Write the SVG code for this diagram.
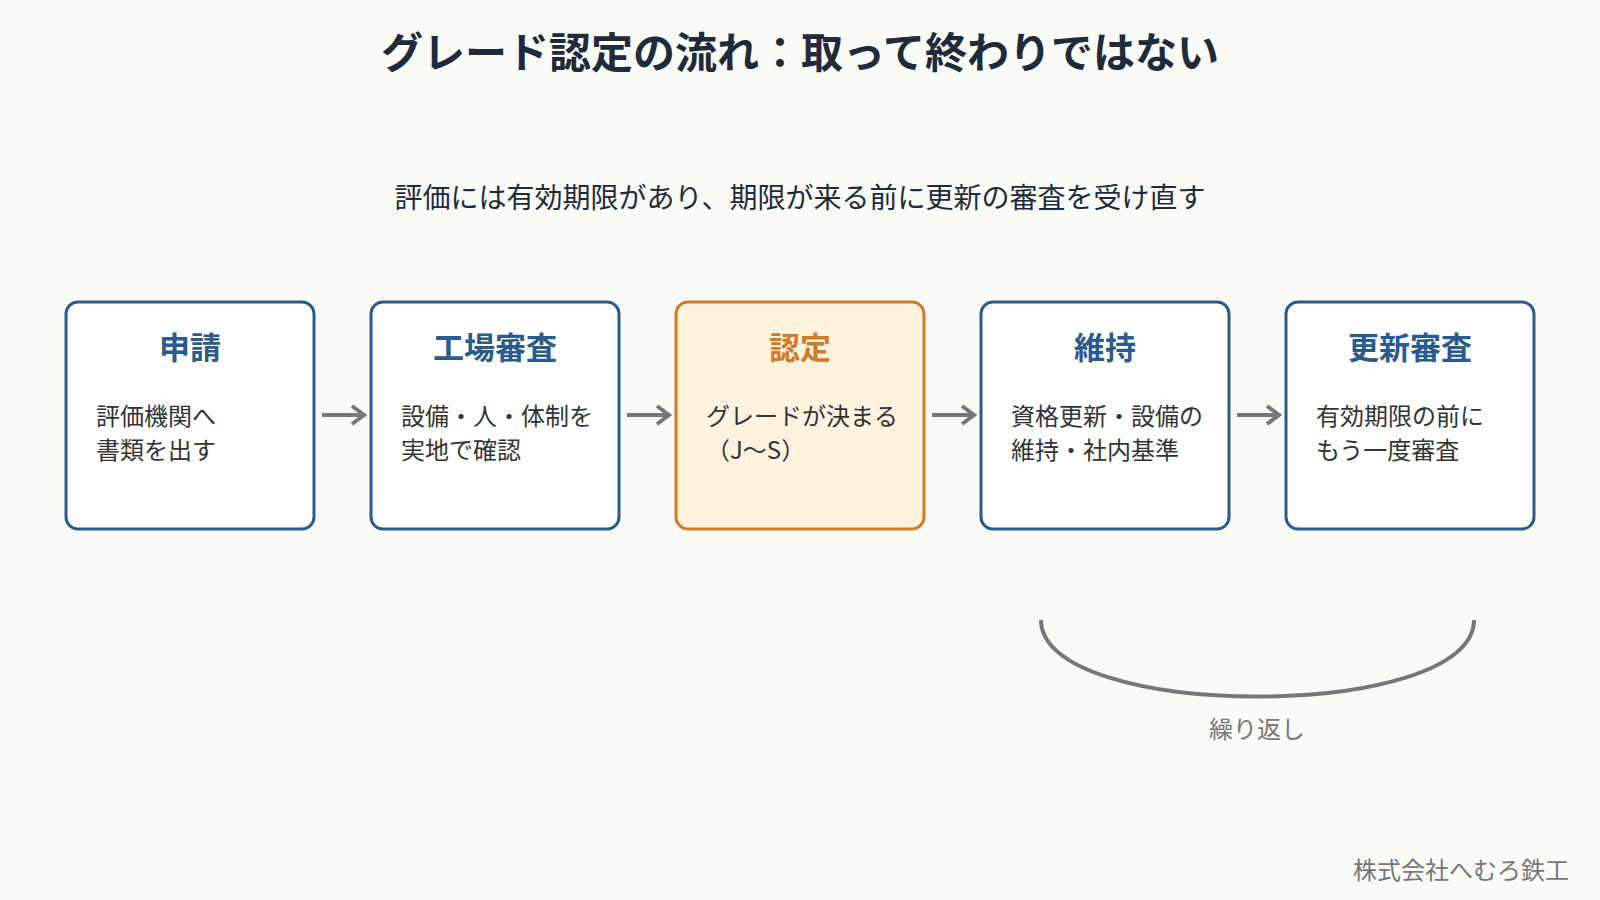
<svg xmlns="http://www.w3.org/2000/svg" width="1600" height="900" viewBox="0 0 1600 900">
<defs>
<marker id="ah" markerWidth="20" markerHeight="24" viewBox="-2 -12 20 24" refX="14" refY="0" orient="auto" markerUnits="userSpaceOnUse"><path d="M2 -9 L14 0 L2 9" fill="none" stroke="#777" stroke-width="4"/></marker>
</defs>
<style>
text{font-family:"Noto Sans CJK JP","Noto Sans",sans-serif}
.box{fill:#fff;stroke:#2b5a8c;stroke-width:3}
.hl{fill:#fff2df;stroke:#d07a2a;stroke-width:3}
.t{font-size:31px;font-weight:bold;fill:#2b5a8c;text-anchor:middle}
.th{fill:#d07a2a}
.b{font-size:24px;fill:#333}
.c{stroke:#777;stroke-width:4;fill:none}
</style>
<rect width="1600" height="900" fill="#fafaf7"/>
<text x="800" y="68" font-size="42" font-weight="bold" fill="#1f2a3a" text-anchor="middle">グレード認定の流れ：取って終わりではない</text>
<text x="800" y="208" font-size="28" fill="#1f2a3a" text-anchor="middle">評価には有効期限があり、期限が来る前に更新の審査を受け直す</text>
<g id="n1"><rect class="box" x="66" y="302" width="248" height="227" rx="12"/><text class="t" x="190" y="359">申請</text><text class="b" x="96" y="425">評価機関へ</text><text class="b" x="96" y="459">書類を出す</text></g>
<g id="n2"><rect class="box" x="371" y="302" width="248" height="227" rx="12"/><text class="t" x="495" y="359">工場審査</text><text class="b" x="401" y="425">設備・人・体制を</text><text class="b" x="401" y="459">実地で確認</text></g>
<g id="n3"><rect class="hl" x="676" y="302" width="248" height="227" rx="12"/><text class="t th" x="800" y="359">認定</text><text class="b" x="706" y="425">グレードが決まる</text><text class="b" x="706" y="459">（J〜S）</text></g>
<g id="n4"><rect class="box" x="981" y="302" width="248" height="227" rx="12"/><text class="t" x="1105" y="359">維持</text><text class="b" x="1011" y="425">資格更新・設備の</text><text class="b" x="1011" y="459">維持・社内基準</text></g>
<g id="n5"><rect class="box" x="1286" y="302" width="248" height="227" rx="12"/><text class="t" x="1410" y="359">更新審査</text><text class="b" x="1316" y="425">有効期限の前に</text><text class="b" x="1316" y="459">もう一度審査</text></g>
<g id="connectors">
<line class="c" x1="322" y1="415" x2="364" y2="415" marker-end="url(#ah)"/>
<line class="c" x1="627" y1="415" x2="669" y2="415" marker-end="url(#ah)"/>
<line class="c" x1="932" y1="415" x2="974" y2="415" marker-end="url(#ah)"/>
<line class="c" x1="1237" y1="415" x2="1279" y2="415" marker-end="url(#ah)"/>
<path class="c" d="M1041 620 C1041 722 1474 722 1474 620"/>
</g>
<text x="1257" y="738" font-size="24" fill="#777" text-anchor="middle">繰り返し</text>
<text x="1569" y="879" font-size="24" fill="#777" text-anchor="end">株式会社へむろ鉄工</text>
</svg>
